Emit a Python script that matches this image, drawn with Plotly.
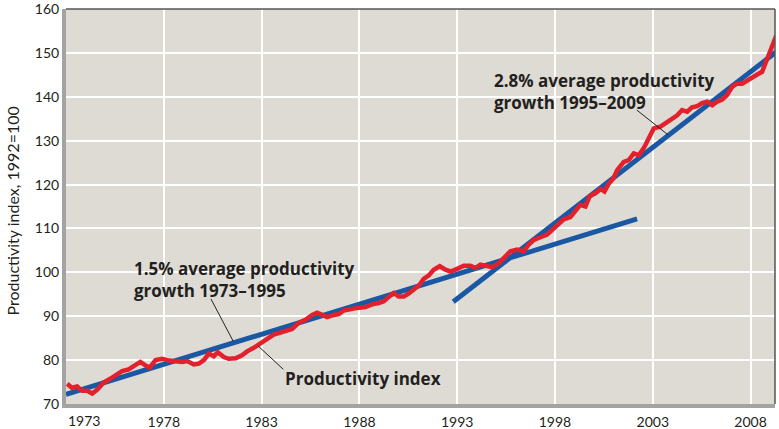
import plotly.graph_objects as go

# Productivity index (1992=100)
years = [1973.06, 1973.30, 1973.57, 1973.83, 1974.08, 1974.34, 1974.60, 1974.93, 1975.28, 1975.60,
         1975.87, 1976.20, 1976.47, 1976.80, 1977.06, 1977.28, 1977.58, 1977.92, 1978.26, 1978.60,
         1978.94, 1979.20, 1979.53, 1979.79, 1980.05, 1980.30, 1980.56, 1980.76, 1981.07, 1981.32,
         1981.67, 1982.00, 1982.26, 1982.60, 1982.86, 1983.10, 1983.62, 1984.13, 1984.56, 1984.90,
         1985.24, 1985.59, 1985.84, 1986.10, 1986.35, 1986.70, 1986.95, 1987.20, 1987.55, 1987.89,
         1988.31, 1988.65, 1988.99, 1989.25, 1989.50, 1989.76, 1990.01, 1990.27, 1990.53, 1990.78,
         1991.04, 1991.29, 1991.55, 1991.80, 1992.11, 1992.40, 1992.66, 1993.00, 1993.34, 1993.68,
         1993.94, 1994.19, 1994.45, 1994.79, 1995.13, 1995.47, 1995.72, 1996.07, 1996.40, 1996.66,
         1996.92, 1997.26, 1997.60, 1997.86, 1998.11, 1998.45, 1998.79, 1999.05, 1999.30, 1999.56,
         1999.78, 2000.07, 2000.33, 2000.53, 2000.75, 2001.00, 2001.18, 2001.52, 2001.77, 2002.03,
         2002.28, 2002.54, 2002.80, 2003.05, 2003.39, 2003.74, 2003.99, 2004.25, 2004.50, 2004.76,
         2005.01, 2005.27, 2005.52, 2005.78, 2006.04, 2006.29, 2006.55, 2006.80, 2007.06, 2007.31,
         2007.57, 2007.83, 2008.08, 2008.34, 2008.59, 2008.85, 2009.10, 2009.32]
index = [74.6, 73.7, 74.0, 73.0, 73.0, 72.4, 73.3, 74.9, 75.8, 76.7,
         77.5, 77.9, 78.6, 79.6, 78.8, 78.3, 80.0, 80.3, 79.9, 79.7,
         79.6, 79.8, 79.0, 79.2, 80.0, 81.5, 80.9, 81.8, 80.7, 80.3,
         80.4, 81.1, 82.0, 82.8, 83.6, 84.5, 85.8, 86.5, 87.1, 88.5,
         89.2, 90.3, 90.8, 90.3, 89.8, 90.3, 90.5, 91.3, 91.7, 91.9,
         92.1, 92.7, 93.0, 93.4, 94.4, 95.3, 94.5, 94.5, 95.2, 96.1,
         97.0, 98.5, 99.3, 100.6, 101.4, 100.6, 100.2, 100.8, 101.5, 101.5,
         101.0, 101.75, 101.4, 101.2, 102.1, 103.6, 104.8, 105.2, 104.8, 106.3,
         107.4, 108.0, 108.6, 109.7, 110.8, 112.1, 112.6, 113.9, 115.4, 115.0,
         117.4, 118.0, 119.0, 118.4, 120.2, 121.5, 123.3, 125.2, 125.6, 127.1,
         126.7, 128.3, 130.5, 132.8, 133.2, 134.3, 134.9, 135.8, 137.0, 136.6,
         137.6, 137.9, 138.6, 138.9, 138.1, 138.9, 139.4, 140.4, 142.3, 143.0,
         143.0, 143.8, 144.5, 145.1, 145.7, 148.5, 151.4, 154.0]

# Trend lines (endpoints)
trend1_x = [1973.0, 2002.2]
trend1_y = [72.2, 112.2]
trend2_x = [1992.8, 2009.3]
trend2_y = [93.3, 150.2]

y_ticks = [70, 80, 90, 100, 110, 120, 130, 140, 150, 160]
x_ticks = [1978, 1983, 1988, 1993, 1998, 2003, 2008]
x_tick_labels = ["1978", "1983", "1988", "1993", "1998", "2003", "2008"]
first_year_label = "1973"
y_title = "Productivity index, 1992=100"

BLUE = "#1b58a3"
RED = "#e3202c"
TXT = "#231f20"
FONT = "Lato"
ANN_FONT = "Open Sans"

fig = go.Figure()
fig.add_trace(go.Scatter(x=trend1_x, y=trend1_y, mode="lines",
                         line=dict(color=BLUE, width=5), hoverinfo="skip"))
fig.add_trace(go.Scatter(x=trend2_x, y=trend2_y, mode="lines",
                         line=dict(color=BLUE, width=5), hoverinfo="skip"))
fig.add_trace(go.Scatter(x=years, y=index, mode="lines",
                         line=dict(color=RED, width=4.5), hoverinfo="skip"))

# leader lines
leaders = [
    ((1980.41, 93.95), (1981.55, 84.3)),
    ((1982.83, 83.2), (1984.11, 77.9)),
    ((2002.18, 137.0), (2003.79, 131.3)),
]
for (x0, y0), (x1, y1) in leaders:
    fig.add_shape(type="line", x0=x0, y0=y0, x1=x1, y1=y1, xref="x", yref="y",
                  line=dict(color="#222222", width=1))

# top / right thin frame
fig.add_shape(type="line", x0=0, x1=1, y0=1, y1=1, xref="paper", yref="paper",
              line=dict(color="#555555", width=1.5))
fig.add_shape(type="line", x0=1, x1=1, y0=0, y1=1, xref="paper", yref="paper",
              line=dict(color="#555555", width=1.5))

ann_font = dict(family=ANN_FONT, size=17, color=TXT)
fig.add_annotation(x=1976.37, y=98.3, xref="x", yref="y", xanchor="left", yanchor="middle",
                   align="left", showarrow=False,
                   text="<b>1.5% average productivity<br>growth 1973–1995</b>", font=ann_font)
fig.add_annotation(x=1984.11, y=75.8, xref="x", yref="y", xanchor="left", yanchor="middle",
                   align="left", showarrow=False,
                   text="<b>Productivity index</b>", font=ann_font)
fig.add_annotation(x=1994.8, y=141.3, xref="x", yref="y", xanchor="left", yanchor="middle",
                   align="left", showarrow=False,
                   text="<b>2.8% average productivity<br>growth 1995–2009</b>", font=ann_font)
fig.add_annotation(x=1973.0, y=70, xref="x", yref="y", xanchor="left", yanchor="top",
                   yshift=-6, showarrow=False, text=first_year_label,
                   font=dict(family=FONT, size=14, color=TXT))
fig.add_annotation(x=-0.0762, y=0.49, xref="paper", yref="paper", xanchor="center",
                   yanchor="middle", textangle=-90, showarrow=False, text=y_title,
                   font=dict(family=FONT, size=16, color=TXT))

fig.update_layout(
    width=779, height=429,
    margin=dict(l=66, r=4, t=9, b=25, autoexpand=False),
    paper_bgcolor="white",
    plot_bgcolor="#dddbd4",
    showlegend=False,
    font=dict(family=FONT, size=14, color=TXT),
)
fig.update_xaxes(range=[1973, 2009.25], tickvals=x_ticks, ticktext=x_tick_labels,
                 showgrid=True, gridcolor="white", gridwidth=1.5,
                 showline=True, linecolor="#a3a3a3", linewidth=4,
                 ticks="", zeroline=False, ticklabelstandoff=2, ticklabeloverflow="allow",
                 automargin=False,
                 tickfont=dict(family=FONT, size=14, color=TXT))
fig.update_yaxes(range=[70, 160.02], tickvals=y_ticks,
                 showgrid=True, gridcolor="white", gridwidth=1.5,
                 showline=True, linecolor="#a3a3a3", linewidth=4,
                 ticks="", zeroline=False, ticklabeloverflow="allow",
                 automargin=False,
                 tickfont=dict(family=FONT, size=14, color=TXT))

fig.write_html("out.html", config={"displayModeBar": False},
               post_script="document.body.style.margin='0';document.body.style.overflow='hidden';")
